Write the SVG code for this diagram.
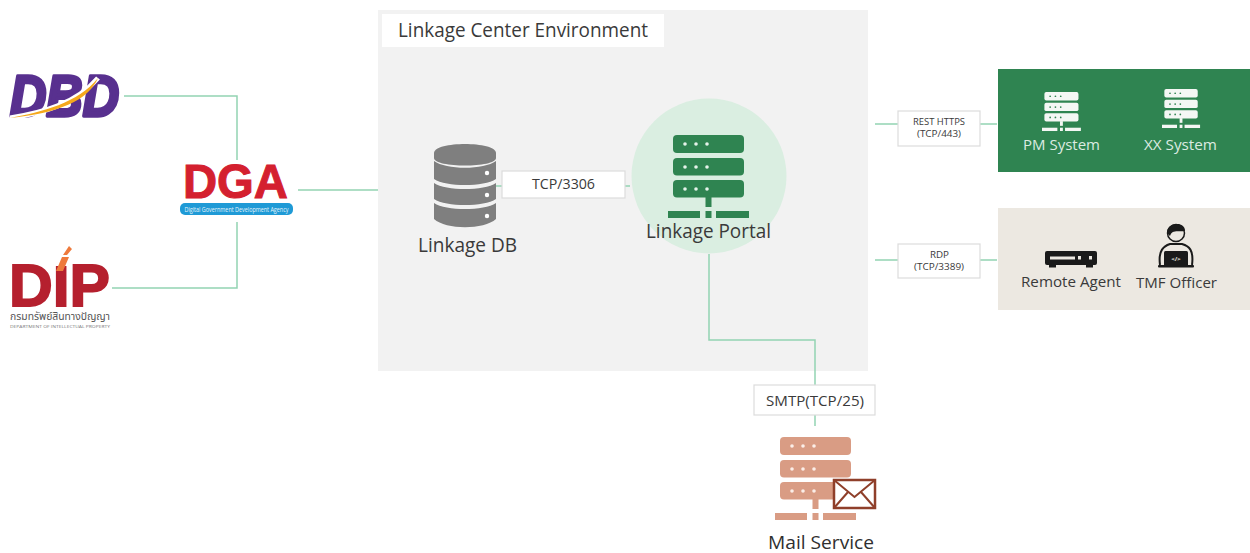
<svg xmlns="http://www.w3.org/2000/svg" width="1250" height="553" viewBox="0 0 1250 553">
<style>
text{font-family:"Open Sans","Noto Sans","Liberation Sans",sans-serif;fill:#3a3a3a}
.lb{fill:#fff;stroke:#dcdcdc;stroke-width:1.2}
.c{fill:none;stroke:#93d3b2;stroke-width:1.5}
.logo{font-family:"Liberation Sans",sans-serif;font-weight:700}
</style>
<defs>
<g id="srv">
<rect x="5" y="0" width="71" height="18" rx="4"/>
<rect x="5" y="23" width="71" height="17.500" rx="4"/>
<rect x="5" y="45" width="71" height="17.500" rx="4"/>
<rect x="37.500" y="62" width="6" height="10"/>
<rect x="0" y="76" width="32" height="7"/>
<rect x="37.500" y="76" width="6" height="7"/>
<rect x="48" y="76" width="33" height="7"/>
</g>
<g id="dots">
<circle cx="17" cy="9" r="1.800"/><circle cx="28" cy="9" r="1.800"/><circle cx="39" cy="9" r="1.800"/>
<circle cx="17" cy="32" r="1.800"/><circle cx="28" cy="32" r="1.800"/><circle cx="39" cy="32" r="1.800"/>
<circle cx="17" cy="54" r="1.800"/><circle cx="28" cy="54" r="1.800"/><circle cx="39" cy="54" r="1.800"/>
</g>
</defs>
<rect id="env-bg" x="378" y="10" width="490" height="361" fill="#f2f2f2"/>
<rect x="382" y="14" width="282" height="33" fill="#fff"/>
<text x="398" y="37" font-size="20" textLength="250" lengthAdjust="spacingAndGlyphs">Linkage Center Environment</text>
<circle cx="709" cy="176" r="77.500" fill="#daeee1"/>
<g id="connectors">
<path class="c" d="M124 96H237V160"/>
<path class="c" d="M112 288H237V222"/>
<path class="c" d="M298 190H378"/>
<path class="c" d="M495 186H502M625 186H630"/>
<path class="c" d="M709 254V340H815V385M815 415V426"/>
<path class="c" d="M875 124H898M980 124H997"/>
<path class="c" d="M875 260H898M980 260H997"/>
</g>
<g id="dbd">
<text class="logo" x="10" y="116" font-size="57" font-style="italic" textLength="109" lengthAdjust="spacingAndGlyphs" style="fill:#58308f;stroke:#58308f;stroke-width:3.500;stroke-linejoin:round">DBD</text>
<path d="M10 118C42 113 76 104 98 78" fill="none" stroke="#fff" stroke-width="5"/>
<path d="M10 118C42 112 78 103 98 78C88 101 58 113 10 118Z" fill="#f5a81c"/>
</g>
<g id="dga">
<text class="logo" x="183" y="198" font-size="48.500" textLength="105" lengthAdjust="spacingAndGlyphs" style="fill:#d4202f;stroke:#d4202f;stroke-width:1">DGA</text>
<rect x="180" y="203" width="113" height="12" rx="5" fill="#1f9ad6"/>
<text x="236.500" y="211.500" font-size="6.200" text-anchor="middle" textLength="104" lengthAdjust="spacingAndGlyphs" style="fill:#e6f4fb">Digital Government Development Agency</text>
</g>
<g id="dip">
<text class="logo" x="9" y="306" font-size="60" textLength="101" lengthAdjust="spacingAndGlyphs" style="fill:#b5202e;stroke:#b5202e;stroke-width:1.800">DIP</text>
<rect x="50" y="255" width="20" height="11" fill="#fff"/>
<path d="M56 271L62 257H69L63 271ZM63 255L69 246L72 249L67 255Z" fill="#ee7a3c"/>
<text x="10" y="320" font-size="10" textLength="100" lengthAdjust="spacingAndGlyphs" style="font-family:'Noto Sans','Noto Sans Thai','DejaVu Sans',sans-serif;fill:#555">กรมทรัพย์สินทางปัญญา</text>
<text x="10" y="328" font-size="4" textLength="100" lengthAdjust="spacingAndGlyphs" style="fill:#777">DEPARTMENT OF INTELLECTUAL PROPERTY</text>
</g>
<g id="linkage-db">
<path d="M434 153C434 141 496 141 496 153V158C496 168 434 168 434 158Z" fill="#7f7f7f"/>
<path d="M434 161C446 170 484 170 496 161V179C484 187 446 187 434 179Z" fill="#7f7f7f"/>
<path d="M434 183C446 191 484 191 496 183V199C484 207 446 207 434 199Z" fill="#7f7f7f"/>
<path d="M434 203C446 211 484 211 496 203V219C484 230 446 230 434 219Z" fill="#7f7f7f"/>
<circle cx="487" cy="173" r="2.200" fill="#fff"/><circle cx="487" cy="195" r="2.200" fill="#fff"/><circle cx="487" cy="216" r="2.200" fill="#fff"/>
<text x="418" y="252" font-size="20" textLength="99" lengthAdjust="spacingAndGlyphs">Linkage DB</text>
</g>
<g id="tcp3306">
<rect class="lb" x="502" y="171" width="123" height="27"/>
<text x="532" y="189" font-size="14.500" textLength="63" lengthAdjust="spacingAndGlyphs">TCP/3306</text>
</g>
<g id="linkage-portal">
<use href="#srv" x="668" y="135" fill="#2f8451"/>
<use href="#dots" x="668" y="135" fill="#e6f3ea"/>
<text x="646" y="238" font-size="20" textLength="125" lengthAdjust="spacingAndGlyphs">Linkage Portal</text>
</g>
<g id="rest-https">
<rect class="lb" x="898" y="111" width="82" height="35"/>
<text x="913" y="125" font-size="9" textLength="52" lengthAdjust="spacingAndGlyphs">REST HTTPS</text>
<text x="917" y="137" font-size="9" textLength="44" lengthAdjust="spacingAndGlyphs">(TCP/443)</text>
</g>
<g id="rdp">
<rect class="lb" x="898" y="244" width="82" height="34"/>
<text x="930" y="258" font-size="9" textLength="19" lengthAdjust="spacingAndGlyphs">RDP</text>
<text x="914" y="270" font-size="9" textLength="50" lengthAdjust="spacingAndGlyphs">(TCP/3389)</text>
</g>
<g id="systems">
<rect x="998" y="69" width="252" height="103" fill="#2f8451"/>
<g id="pm-system">
<use href="#srv" transform="translate(1042 92) scale(.48 .47)" fill="#f4f7f4"/>
<use href="#dots" transform="translate(1042 92) scale(.48 .47)" fill="#2f8451"/>
<text x="1023" y="150" font-size="15" textLength="77" lengthAdjust="spacingAndGlyphs" style="fill:#dcebe1">PM System</text>
</g>
<g id="xx-system">
<use href="#srv" transform="translate(1162 89) scale(.47 .47)" fill="#f4f7f4"/>
<use href="#dots" transform="translate(1162 89) scale(.47 .47)" fill="#2f8451"/>
<text x="1144" y="150" font-size="15" textLength="73" lengthAdjust="spacingAndGlyphs" style="fill:#dcebe1">XX System</text>
</g>
</g>
<g id="operators">
<rect x="998" y="208" width="252" height="102" fill="#ece8e1"/>
<g id="remote-agent">
<rect x="1045" y="251" width="52" height="14" rx="2" fill="#1a1a1a"/>
<rect x="1049" y="265" width="7" height="2.500" fill="#1a1a1a"/><rect x="1086" y="265" width="7" height="2.500" fill="#1a1a1a"/>
<rect x="1050" y="256.500" width="25" height="3" fill="#ece8e1"/>
<rect x="1078" y="256" width="3" height="3.500" fill="#ece8e1"/><rect x="1089" y="256" width="3" height="3.500" fill="#ece8e1"/>
<text x="1021" y="287" font-size="15" textLength="100" lengthAdjust="spacingAndGlyphs">Remote Agent</text>
</g>
<g id="tmf-officer">
<circle cx="1176" cy="233" r="8.500" fill="#ece8e1" stroke="#1a1a1a" stroke-width="1.500"/>
<path d="M1167 233C1166 223 1185 220 1185 231C1178 232 1172 229 1170 236Z" fill="#1a1a1a"/>
<path d="M1160 265C1158 250 1164 246 1170 244H1182C1189 246 1194 250 1192 265" fill="none" stroke="#1a1a1a" stroke-width="2"/>
<rect x="1164" y="251" width="24" height="15" rx="1.500" fill="#1a1a1a"/>
<rect x="1158" y="265" width="36" height="2.500" rx="1" fill="#1a1a1a"/>
<text x="1176" y="261" font-size="6" text-anchor="middle" font-weight="700" style="fill:#ece8e1">&lt;/&gt;</text>
<text x="1136" y="288" font-size="15" textLength="81" lengthAdjust="spacingAndGlyphs">TMF Officer</text>
</g>
</g>
<g id="smtp">
<rect class="lb" x="754" y="385" width="121" height="30"/>
<text x="766" y="406" font-size="14.500" textLength="98" lengthAdjust="spacingAndGlyphs">SMTP(TCP/25)</text>
</g>
<g id="mail-service">
<use href="#srv" x="775" y="437" fill="#d99c84"/>
<use href="#dots" x="775" y="437" fill="#fbeee8"/>
<rect x="834" y="480" width="41" height="28" fill="#fff" stroke="#8f3f2a" stroke-width="2.500"/>
<path d="M834 480L854.500 497L875 480M834 508L848 492M875 508L861 492" fill="none" stroke="#8f3f2a" stroke-width="2"/>
<text x="768" y="549" font-size="19" textLength="106" lengthAdjust="spacingAndGlyphs" style="fill:#2f2f2f">Mail Service</text>
</g>
</svg>
